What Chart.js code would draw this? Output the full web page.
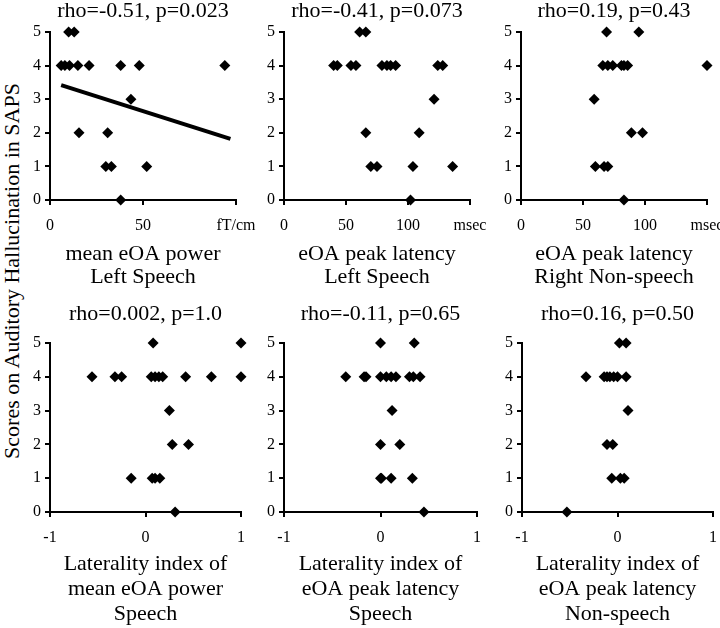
<!DOCTYPE html>
<html>
<head>
<meta charset="utf-8">
<script src="https://cdn.jsdelivr.net/npm/chart.js@4.4.1/dist/chart.umd.min.js"></script>
<style>
  html, body { margin: 0; padding: 0; background: #fff; overflow: hidden; }
  #wrap { position: relative; width: 720px; height: 628px; overflow: hidden; }
  #wrap canvas { position: absolute; }
  #yTitle {
    position: absolute; left: 12px; top: 271px;
    transform: translate(-50%, -50%) rotate(-90deg);
    white-space: nowrap; color: #000;
    font: 22px 'Liberation Serif', 'Times New Roman', serif;
  }
</style>
</head>
<body>
<div id="wrap">
  <div id="yTitle">Scores on Auditory Hallucination in SAPS</div>
</div>
<script>
// SAPS scores (y) against each measure (x), one pair of arrays per panel

// mean eOA power, Left Speech (fT/cm)
const powerLeftX = [10, 13, 6, 8, 10.5, 15, 21, 38, 48, 94, 43.5, 15.6, 31, 30, 33, 52, 38];
const powerLeftY = [5, 5, 4, 4, 4, 4, 4, 4, 4, 4, 3, 2, 2, 1, 1, 1, 0];
const powerLeftFitX = [6, 97];
const powerLeftFitY = [3.42, 1.82];

// eOA peak latency, Left Speech (msec)
const latLeftX = [61, 66, 40, 43, 54, 58, 79, 83, 86, 90, 124, 128, 121, 66, 109, 70, 75, 104, 136, 102];
const latLeftY = [5, 5, 4, 4, 4, 4, 4, 4, 4, 4, 4, 4, 3, 2, 2, 1, 1, 1, 1, 0];

// eOA peak latency, Right Non-speech (msec)
const latRightX = [69, 95, 66, 70, 74, 81, 83, 86, 150, 59, 89, 98, 60, 67, 70, 83];
const latRightY = [5, 5, 4, 4, 4, 4, 4, 4, 4, 3, 2, 2, 1, 1, 1, 0];

// Laterality index of mean eOA power, Speech
const liPowerX = [0.08, 1.0, -0.56, -0.32, -0.25, 0.06, 0.1, 0.14, 0.18, 0.42, 0.69, 1.0, 0.25, 0.28, 0.45, -0.15, 0.07, 0.1, 0.15, 0.31];
const liPowerY = [5, 5, 4, 4, 4, 4, 4, 4, 4, 4, 4, 4, 3, 2, 2, 1, 1, 1, 1, 0];

// Laterality index of eOA peak latency, Speech
const liLatSpX = [0, 0.35, -0.36, -0.17, -0.15, 0, 0.06, 0.11, 0.16, 0.3, 0.34, 0.41, 0.12, 0, 0.2, 0, 0.01, 0.11, 0.33, 0.45];
const liLatSpY = [5, 5, 4, 4, 4, 4, 4, 4, 4, 4, 4, 4, 3, 2, 2, 1, 1, 1, 1, 0];

// Laterality index of eOA peak latency, Non-speech
const liLatNsX = [0.02, 0.09, -0.33, -0.14, -0.11, -0.08, -0.04, 0, 0.09, 0.11, -0.11, -0.05, -0.06, 0.03, 0.07, -0.53];
const liLatNsY = [5, 5, 4, 4, 4, 4, 4, 4, 4, 3, 2, 2, 1, 1, 1, 0];

// panel titles and axis text
const panelTitles = ['rho=-0.51, p=0.023', 'rho=-0.41, p=0.073', 'rho=0.19, p=0.43',
                     'rho=0.002, p=1.0', 'rho=-0.11, p=0.65', 'rho=0.16, p=0.50'];
const xTitles = [
    ['mean eOA power', 'Left Speech'],
    ['eOA peak latency', 'Left Speech'],
    ['eOA peak latency', 'Right Non-speech'],
    ['Laterality index of', 'mean eOA power', 'Speech'],
    ['Laterality index of', 'eOA peak latency', 'Speech'],
    ['Laterality index of', 'eOA peak latency', 'Non-speech']
];
const yTicks = [0, 1, 2, 3, 4, 5];

Chart.defaults.font.family = "'Liberation Serif', 'Times New Roman', serif";
Chart.defaults.color = '#000';

const toPoints = (xs, ys) => xs.map((x, i) => ({ x: x, y: ys[i] }));

// Build one scatter panel on its own canvas
function makePanel(p) {
    const canvas = document.createElement('canvas');
    canvas.width = p.w;
    canvas.height = p.h;
    canvas.style.left = p.left + 'px';
    canvas.style.top = p.top + 'px';
    document.getElementById('wrap').appendChild(canvas);

    const datasets = [{
        type: 'scatter',
        data: toPoints(p.xs, p.ys),
        pointStyle: 'rectRot',
        pointRadius: 5.5,
        backgroundColor: '#000',
        borderColor: '#000',
        borderWidth: 0,
        clip: false
    }];
    if (p.fitX) {
        datasets.push({
            type: 'line',
            data: toPoints(p.fitX, p.fitY),
            borderColor: '#000',
            borderWidth: 4,
            pointRadius: 0,
            fill: false,
            clip: false
        });
    }

    return new Chart(canvas, {
        data: { datasets: datasets },
        options: {
            responsive: false,
            animation: false,
            events: [],
            layout: {
                autoPadding: false,
                padding: { left: 0, top: 0, bottom: 0, right: p.w - 50 - p.plotW }
            },
            plugins: {
                legend: { display: false },
                tooltip: { enabled: false },
                title: {
                    display: true,
                    text: p.title,
                    fullSize: false,
                    color: '#000',
                    font: { size: 22, weight: 'normal', lineHeight: 1 },
                    padding: { top: p.titleTop, bottom: p.titleBottom }
                }
            },
            scales: {
                x: {
                    type: 'linear',
                    min: p.xMin,
                    max: p.xMax,
                    afterFit: s => { s.height = p.xAxisH; },
                    ticks: {
                        stepSize: p.xStep,
                        autoSkip: false,
                        maxRotation: 0,
                        padding: 11,
                        color: '#000',
                        font: { size: 16 },
                        callback: v => (p.unit && v === p.xMax) ? p.unit : String(v)
                    },
                    grid: { drawOnChartArea: false, drawTicks: true, tickLength: 5, color: '#000', lineWidth: 2 },
                    border: { display: true, color: '#000', width: 2 },
                    title: {
                        display: true,
                        text: p.xTitle,
                        color: '#000',
                        font: { size: 22, lineHeight: p.xTitleLH },
                        padding: { top: 0, bottom: p.xTitleBottom }
                    }
                },
                y: {
                    type: 'linear',
                    min: 0,
                    max: 5,
                    afterFit: s => { s.width = 50; },
                    afterBuildTicks: s => { s.ticks = yTicks.map(v => ({ value: v })); },
                    ticks: { padding: 4, color: '#000', font: { size: 16 } },
                    grid: { drawOnChartArea: false, drawTicks: true, tickLength: 5, color: '#000', lineWidth: 2 },
                    border: { display: true, color: '#000', width: 2 }
                }
            }
        }
    });
}

// top row: chart area y from 32 to 200
const topRow = { top: 0, h: 300, xAxisH: 100, titleTop: 0, titleBottom: 10, xTitleLH: 1.05, xTitleBottom: 11 };
// bottom row: chart area y from 343 to 512
const bottomRow = { top: 300, h: 328, xAxisH: 116, titleTop: 3, titleBottom: 18, xTitleLH: 1.14, xTitleBottom: 1 };

makePanel(Object.assign({}, topRow, { left: 0, w: 276, plotW: 186, xMin: 0, xMax: 100, xStep: 50, unit: 'fT/cm',
    title: panelTitles[0], xTitle: xTitles[0], xs: powerLeftX, ys: powerLeftY, fitX: powerLeftFitX, fitY: powerLeftFitY }));
makePanel(Object.assign({}, topRow, { left: 234, w: 276, plotW: 186, xMin: 0, xMax: 150, xStep: 50, unit: 'msec',
    title: panelTitles[1], xTitle: xTitles[1], xs: latLeftX, ys: latLeftY }));
makePanel(Object.assign({}, topRow, { left: 471, w: 276, plotW: 186, xMin: 0, xMax: 150, xStep: 50, unit: 'msec',
    title: panelTitles[2], xTitle: xTitles[2], xs: latRightX, ys: latRightY }));

makePanel(Object.assign({}, bottomRow, { left: 0, w: 281, plotW: 191, xMin: -1, xMax: 1, xStep: 1,
    title: panelTitles[3], xTitle: xTitles[3], xs: liPowerX, ys: liPowerY }));
makePanel(Object.assign({}, bottomRow, { left: 234, w: 283, plotW: 193, xMin: -1, xMax: 1, xStep: 1,
    title: panelTitles[4], xTitle: xTitles[4], xs: liLatSpX, ys: liLatSpY }));
makePanel(Object.assign({}, bottomRow, { left: 472, w: 281, plotW: 191, xMin: -1, xMax: 1, xStep: 1,
    title: panelTitles[5], xTitle: xTitles[5], xs: liLatNsX, ys: liLatNsY }));
</script>
</body>
</html>
